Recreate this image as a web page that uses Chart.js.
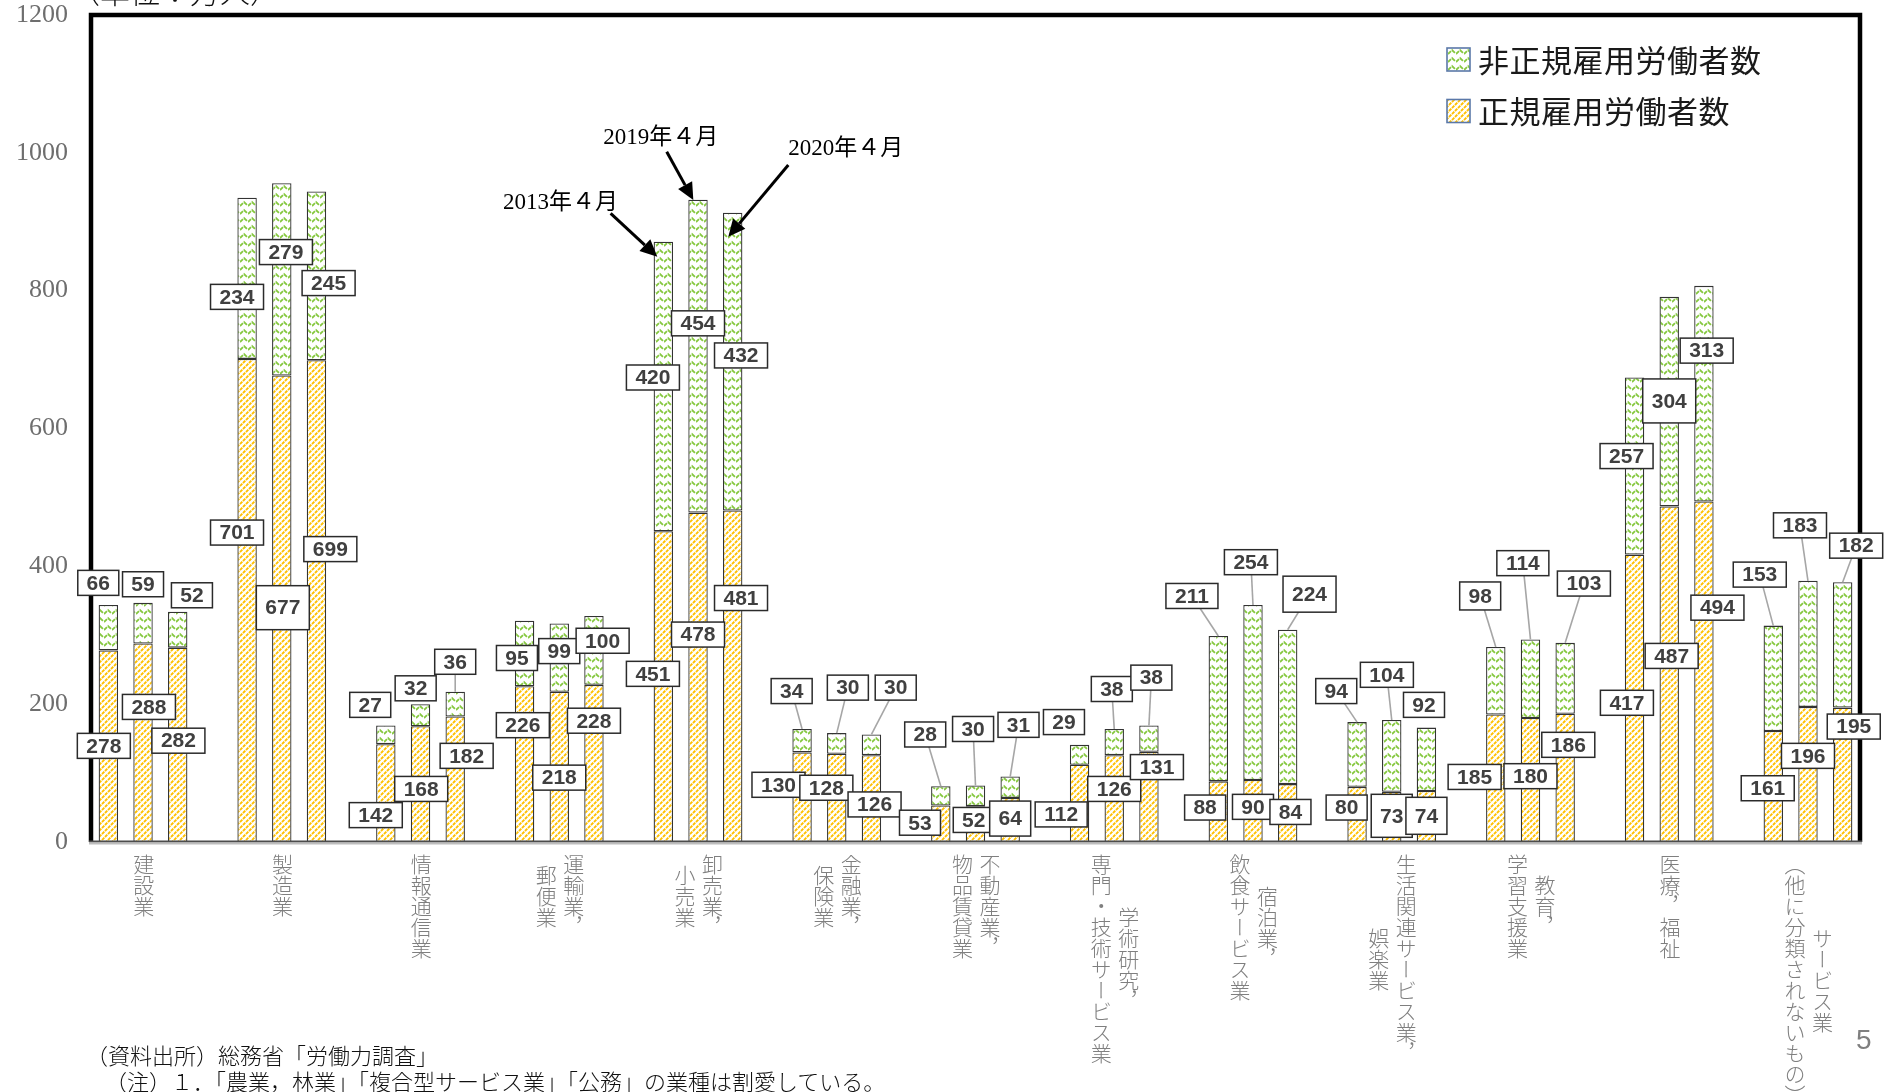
<!DOCTYPE html>
<html lang="ja">
<head>
<meta charset="utf-8">
<title>産業別 正規・非正規雇用労働者数</title>
<script src="https://cdn.jsdelivr.net/npm/chart.js@4.4.1/dist/chart.umd.min.js"></script>
<style>
  html, body { margin: 0; padding: 0; background: #fff; }
  #wrap { position: relative; width: 1898px; height: 1092px; overflow: hidden; }
  #chart { position: absolute; left: 0; top: 0; }
  .cat {
    position: absolute; writing-mode: vertical-rl; text-orientation: mixed;
    font-family: "Noto Sans CJK JP", sans-serif; font-weight: 300;
    font-size: 21px; line-height: 27.5px; color: #7f7f7f;
    text-align: center; white-space: nowrap;
  }
  .note {
    position: absolute; font-family: "Noto Sans CJK JP", sans-serif; font-weight: 300;
    font-size: 22px; line-height: 1; color: #111; white-space: nowrap;
  }
</style>
</head>
<body>
<div id="wrap">
  <canvas id="chart" width="1898" height="1092"></canvas>
  <div class="note" style="left:70px; top:-25px; font-size:30px;">（単位：万人）</div>
  <div class="note" style="left:86px; top:1043px;">（資料出所）総務省「労働力調査」</div>
  <div class="note" style="left:105px; top:1069px;">（注）１．「農業，林業」「複合型サービス業」「公務」の業種は割愛している。</div>
  <div class="note" style="left:1856px; top:1026px; font-size:28px; color:#7f7f7f; font-family:'Liberation Sans', sans-serif;">5</div>
</div>
<script>
// ---- data (万人) ----
const industries = [
  ['建設業'], ['製造業'], ['情報通信業'], ['運輸業，', '郵便業'], ['卸売業，', '小売業'],
  ['金融業，', '保険業'], ['不動産業，', '物品賃貸業'], ['学術研究，', '専門・技術サービス業'],
  ['宿泊業，', '飲食サービス業'], ['生活関連サービス業，', '娯楽業'], ['教育，', '学習支援業'],
  ['医療，福祉'], ['サービス業', '（他に分類されないもの）']
];
const years = ['2013年４月', '2019年４月', '2020年４月'];

const regular2013 = [278, 701, 142, 226, 451, 130, 53, 112, 88, 80, 185, 417, 161];
const regular2019 = [288, 677, 168, 218, 478, 128, 52, 126, 90, 73, 180, 487, 196];
const regular2020 = [282, 699, 182, 228, 481, 126, 64, 131, 84, 74, 186, 494, 195];

const nonRegular2013 = [66, 234, 27, 95, 420, 34, 28, 29, 211, 94, 98, 257, 153];
const nonRegular2019 = [59, 279, 32, 99, 454, 30, 30, 38, 254, 104, 114, 304, 183];
const nonRegular2020 = [52, 245, 36, 100, 432, 30, 31, 38, 224, 92, 103, 313, 182];

const yTicks = [0, 200, 400, 600, 800, 1000, 1200];

const seriesNames = ['正規雇用労働者数', '非正規雇用労働者数'];

// ---- value-label placement: [x shift in bar slots, centre in axis units, box height, leader line] ----
const regularLabelPos = [
  [[-0.13, 139.5], [0.17, 196], [0.02, 147]],
  [[-0.29, 449], [0.03, 340, 44], [0.40, 425]],
  [[-0.29, 39], [0.02, 77], [0.33, 125]],
  [[-0.05, 169.5], [0, 93.4], [0, 176]],
  [[-0.30, 244], [0, 301], [0.24, 354]],
  [[-0.68, 83], [-0.30, 78.7], [0.09, 54.5]],
  [[-0.60, 28], [-0.05, 32], [0, 34, 35]],
  [[-0.53, 40], [0, 77], [0.23, 108.7]],
  [[-0.38, 50], [0, 51], [0.08, 43.6]],
  [[-0.30, 50], [0, 38, 43], [0, 38, 37]],
  [[-0.61, 94.4], [0, 95.5], [0.09, 141]],
  [[-0.22, 202], [0.07, 270], [0.39, 340]],
  [[-0.16, 78], [0, 125], [0.32, 167.5]]
];
const nonRegularLabelPos = [
  [[-0.29, 376], [0, 374], [0.41, 358]],
  [[-0.29, 791], [0.12, 856], [0.35, 811]],
  [[-0.45, 199], [-0.14, 223], [0, 261.5, 25, 1]],
  [[-0.22, 267], [0, 277], [0.25, 292]],
  [[-0.30, 674], [0, 752.6], [0.24, 706]],
  [[-0.30, 219, 25, 1], [0.32, 224, 25, 1], [0.70, 224, 25, 1]],
  [[-0.45, 156, 25, 1], [-0.07, 164, 25, 1], [0.24, 170, 25, 1]],
  [[-0.45, 174], [-0.07, 222, 25, 1], [0.07, 238.5, 25, 1]],
  [[-0.76, 357, 25, 1], [-0.06, 406, 25, 1], [0.63, 359.6, 36, 1]],
  [[-0.60, 219, 25, 1], [-0.14, 242.6, 25, 1], [-0.07, 199]],
  [[-0.45, 357, 28, 1], [-0.22, 404.6, 25, 1], [0.54, 375, 25, 1]],
  [[-0.23, 560], [0, 640, 44], [0.08, 713]],
  [[-0.39, 388, 25, 1], [-0.23, 459.5, 25, 1], [0.39, 430, 25, 1]]
];

// arrows pointing at the 卸売業，小売業 bars: tip offset from bar top, tail offset from tip, text offset from tail
const yearArrows = [
  { year: 0, tip: [-6, 15], tail: [-46.7, -43.4], text: [-107.6, -10.3] },
  { year: 1, tip: [-4.7, 0.3], tail: [-26.6, -48.3], text: [-63.4, -14.2] },
  { year: 2, tip: [-4.4, 23.9], tail: [60, -71.7], text: [0, -16.5] }
];
const arrowGroup = 4;

// ---- slot layout: three bars per industry, one empty slot between industries ----
const SLOTS_PER_GROUP = 4;
const regularSeries = [regular2013, regular2019, regular2020];
const nonRegularSeries = [nonRegular2013, nonRegular2019, nonRegular2020];
const slotLabels = [], regularSlots = [], nonRegularSlots = [];
industries.forEach((name, g) => {
  years.forEach((yr, k) => {
    slotLabels.push(name.join('') + ' ' + yr);
    regularSlots.push(regularSeries[k][g]);
    nonRegularSlots.push(nonRegularSeries[k][g]);
  });
  if (g < industries.length - 1) {
    slotLabels.push('');
    regularSlots.push(null);
    nonRegularSlots.push(null);
  }
});
const slotOf = (g, k) => g * SLOTS_PER_GROUP + k;

// ---- fill patterns ----
function makeHatch(ctx) {
  const s = 6;
  const c = document.createElement('canvas');
  c.width = s; c.height = s;
  const g = c.getContext('2d');
  g.fillStyle = '#fff'; g.fillRect(0, 0, s, s);
  g.strokeStyle = '#FFC000'; g.lineWidth = 1.9;
  g.setLineDash([3.3, 0.94]);
  g.beginPath();
  g.moveTo(0, s); g.lineTo(s, 0);
  g.moveTo(-s, s); g.lineTo(s, -s);
  g.moveTo(0, 2 * s); g.lineTo(2 * s, 0);
  g.stroke();
  return ctx.createPattern(c, 'repeat');
}
function makeZigzag(ctx) {
  const w = 8, h = 8;
  const c = document.createElement('canvas');
  c.width = w; c.height = h;
  const g = c.getContext('2d');
  g.fillStyle = '#fff'; g.fillRect(0, 0, w, h);
  g.strokeStyle = '#86C840'; g.lineWidth = 1.8;
  g.setLineDash([4.2, 1.45]);
  g.beginPath();
  g.moveTo(0, 6); g.lineTo(4, 2); g.lineTo(8, 6);
  g.stroke();
  return ctx.createPattern(c, 'repeat');
}

const canvas = document.getElementById('chart');
const ctx0 = canvas.getContext('2d');
const hatchFill = makeHatch(ctx0);
const zigzagFill = makeZigzag(ctx0);

// ---- drawing helpers ----
function labelBox(ctx, cx, cy, text, h) {
  ctx.font = 'bold 21px "Liberation Sans", Arial, sans-serif';
  const w = Math.round(ctx.measureText(text).width + 18);
  return { x: cx - w / 2, y: cy - h / 2, w, h, cx, cy, text };
}

const overlayPlugin = {
  id: 'overlay',
  afterDatasetsDraw(chart) {
    const { ctx, chartArea: a, scales: { x, y } } = chart;
    const slotW = x.getPixelForValue(1) - x.getPixelForValue(0);

    // plot frame
    ctx.save();
    ctx.strokeStyle = '#000';
    ctx.lineWidth = 4.5;
    ctx.beginPath();
    ctx.moveTo(a.left, a.bottom); ctx.lineTo(a.left, a.top);
    ctx.lineTo(a.right, a.top); ctx.lineTo(a.right, a.bottom);
    ctx.stroke();
    ctx.lineWidth = 2;
    ctx.strokeStyle = '#4d4d4d';
    ctx.beginPath(); ctx.moveTo(a.left - 2, a.bottom - 0.5); ctx.lineTo(a.right + 2, a.bottom - 0.5); ctx.stroke();
    ctx.strokeStyle = '#bdbdbd';
    ctx.beginPath(); ctx.moveTo(a.left - 2, a.bottom + 1.5); ctx.lineTo(a.right + 2, a.bottom + 1.5); ctx.stroke();
    ctx.restore();

    // value labels
    const boxes = [];
    const leaders = [];
    [[0, regularSeries, regularLabelPos], [1, nonRegularSeries, nonRegularLabelPos]].forEach(([di, series, pos]) => {
      const meta = chart.getDatasetMeta(di);
      industries.forEach((_, g) => {
        years.forEach((__, k) => {
          const bar = meta.data[slotOf(g, k)];
          const p = pos[g][k];
          const cx = bar.x + p[0] * slotW;
          const cy = y.getPixelForValue(p[1]);
          const b = labelBox(ctx, cx, cy, String(series[k][g]), p[2] || 25);
          boxes.push(b);
          if (p[3]) leaders.push([cx, cy, bar.x, bar.y]);
        });
      });
    });
    ctx.save();
    ctx.strokeStyle = '#a6a6a6';
    ctx.lineWidth = 1.6;
    leaders.forEach(([x1, y1, x2, y2]) => {
      ctx.beginPath(); ctx.moveTo(x1, y1); ctx.lineTo(x2, y2); ctx.stroke();
    });
    ctx.font = 'bold 21px "Liberation Sans", Arial, sans-serif';
    ctx.textAlign = 'center';
    ctx.textBaseline = 'middle';
    boxes.forEach(b => {
      ctx.fillStyle = '#fff';
      ctx.fillRect(b.x, b.y, b.w, b.h);
      ctx.strokeStyle = '#2b2b2b';
      ctx.lineWidth = 1.5;
      ctx.strokeRect(b.x, b.y, b.w, b.h);
      ctx.fillStyle = '#404040';
      ctx.fillText(b.text, b.cx, b.cy + 1);
    });
    ctx.restore();

    // year arrows
    const topMeta = chart.getDatasetMeta(1);
    ctx.save();
    yearArrows.forEach(ar => {
      const bar = topMeta.data[slotOf(arrowGroup, ar.year)];
      const tx = bar.x + ar.tip[0], ty = bar.y + ar.tip[1];
      const sx = tx + ar.tail[0], sy = ty + ar.tail[1];
      const ang = Math.atan2(ty - sy, tx - sx);
      const hl = 17, hw = 8;
      const bx = tx - hl * Math.cos(ang), by = ty - hl * Math.sin(ang);
      ctx.strokeStyle = '#000'; ctx.fillStyle = '#000'; ctx.lineWidth = 3;
      ctx.beginPath(); ctx.moveTo(sx, sy); ctx.lineTo(bx, by); ctx.stroke();
      ctx.beginPath();
      ctx.moveTo(tx, ty);
      ctx.lineTo(bx + hw * Math.sin(ang), by - hw * Math.cos(ang));
      ctx.lineTo(bx - hw * Math.sin(ang), by + hw * Math.cos(ang));
      ctx.closePath(); ctx.fill();
      ctx.font = '23px "Liberation Serif", "Noto Sans CJK JP", serif';
      ctx.textAlign = 'left'; ctx.textBaseline = 'middle';
      ctx.fillText(years[ar.year], sx + ar.text[0], sy + ar.text[1]);
    });
    ctx.restore();

    // legend (non-regular on top)
    ctx.save();
    const lx = a.right - 413;
    [[1, 48], [0, 99.5]].forEach(([di, ly]) => {
      const ds = chart.data.datasets[di];
      ctx.fillStyle = ds.backgroundColor;
      ctx.fillRect(lx, ly, 23, 23);
      ctx.strokeStyle = '#5a78a8'; ctx.lineWidth = 1.6;
      ctx.strokeRect(lx, ly, 23, 23);
      ctx.fillStyle = '#1a1a1a';
      ctx.font = '31px "Noto Sans CJK JP", sans-serif';
      if ('letterSpacing' in ctx) ctx.letterSpacing = '0.5px';
      ctx.textAlign = 'left'; ctx.textBaseline = 'middle';
      ctx.fillText(ds.label, lx + 31, ly + 12);
    });
    ctx.restore();
  }
};

const chart = new Chart(canvas, {
  type: 'bar',
  data: {
    labels: slotLabels,
    datasets: [
      { label: seriesNames[0], data: regularSlots, backgroundColor: hatchFill },
      { label: seriesNames[1], data: nonRegularSlots, backgroundColor: zigzagFill }
    ].map(d => Object.assign(d, {
      borderColor: '#333', borderWidth: 1.3, borderSkipped: false,
      barPercentage: 0.56, categoryPercentage: 1, stack: 'workers'
    }))
  },
  options: {
    responsive: false,
    animation: false,
    devicePixelRatio: 1,
    layout: { padding: { top: 15, right: 38, left: 0, bottom: 0 } },
    plugins: { legend: { display: false }, tooltip: { enabled: false } },
    scales: {
      x: {
        stacked: true, offset: true,
        grid: { display: false, drawTicks: false }, border: { display: false },
        ticks: { display: false },
        afterFit(s) { s.height = 250; }
      },
      y: {
        stacked: true, min: 0, max: 1200,
        afterBuildTicks(s) { s.ticks = yTicks.map(v => ({ value: v })); },
        ticks: {
          padding: 23, color: '#6e6e6e',
          font: { family: '"Liberation Serif", serif', size: 26, lineHeight: 1 },
          callback: v => String(v)
        },
        grid: { display: false, drawTicks: false }, border: { display: false },
        afterFit(s) { s.width = 91; s.paddingTop = 0; s.paddingBottom = 0; }
      }
    }
  },
  plugins: [overlayPlugin]
});

// vertical industry names under the middle bar of each group
const wrap = document.getElementById('wrap');
industries.forEach((cols, g) => {
  const cx = chart.scales.x.getPixelForValue(slotOf(g, 1));
  const div = document.createElement('div');
  div.className = 'cat';
  cols.forEach((c, i) => {
    if (i) div.appendChild(document.createElement('br'));
    div.appendChild(document.createTextNode(c));
  });
  div.style.left = (cx - cols.length * 27.5 / 2) + 'px';
  div.style.top = '854px';
  wrap.appendChild(div);
});
</script>
</body>
</html>
